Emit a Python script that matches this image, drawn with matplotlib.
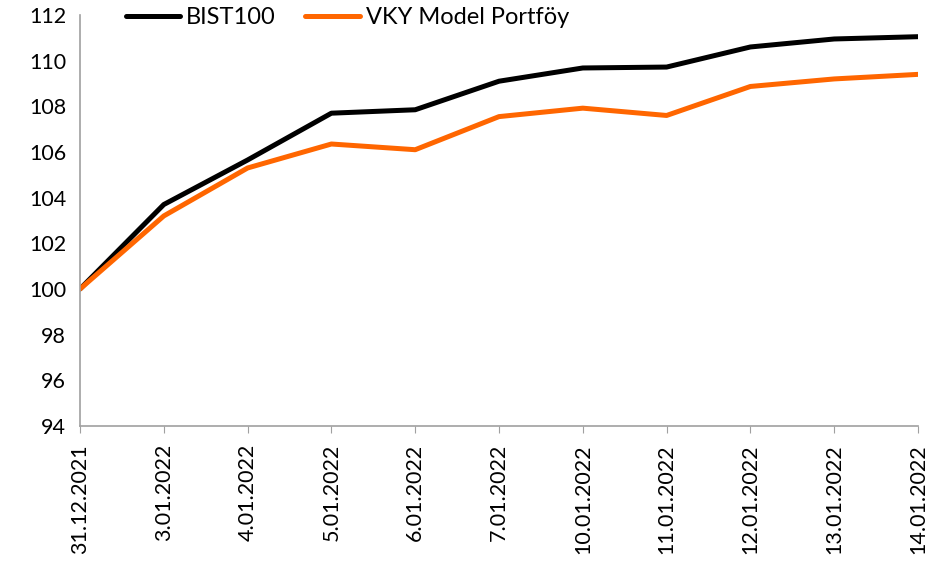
import matplotlib
matplotlib.use("Agg")
import matplotlib.pyplot as plt

dates = ["31.12.2021", "3.01.2022", "4.01.2022", "5.01.2022", "6.01.2022", "7.01.2022",
         "10.01.2022", "11.01.2022", "12.01.2022", "13.01.2022", "14.01.2022"]
bist100 = [100.0, 103.7, 105.65, 107.7, 107.85, 109.1, 109.68, 109.72, 110.6, 110.95, 111.05]
vky = [100.0, 103.2, 105.3, 106.35, 106.1, 107.55, 107.92, 107.6, 108.87, 109.2, 109.4]
yticks = [94, 96, 98, 100, 102, 104, 106, 108, 110, 112]

plt.rcParams['font.family'] = ['Lato', 'DejaVu Sans']

fig = plt.figure(figsize=(9.51, 5.63), dpi=100)
ax = fig.add_axes([80/951, 1-426/563, (918-80)/951, (426-15)/563])
x = list(range(len(dates)))
ax.plot(x, bist100, color="black", lw=3.6, label="BIST100", solid_capstyle="round")
ax.plot(x, vky, color="#FF6600", lw=3.6, label="VKY Model Portföy", solid_capstyle="round")

ax.set_xlim(0, len(dates)-1)
ax.set_ylim(94, 112)
ax.set_yticks(yticks)
ax.set_yticklabels([str(v) for v in yticks], fontsize=15.5)
ax.set_xticks(x)
ax.set_xticklabels(dates, rotation=90, fontsize=15.5)
ax.tick_params(axis='y', length=0, pad=10)
ax.tick_params(axis='x', length=5, color="#A0A0A0", pad=8)
for s in ["top", "right"]:
    ax.spines[s].set_visible(False)
for s in ["left", "bottom"]:
    ax.spines[s].set_color("#A0A0A0")
    ax.spines[s].set_linewidth(1.2)

fig.legend(loc="center left", bbox_to_anchor=(126/951, 1-18/563), ncol=2, frameon=False,
           fontsize=17, handlelength=2.3, columnspacing=1.25, handletextpad=0.25,
           borderpad=0, borderaxespad=0)

fig.savefig("out.png", dpi=100)
